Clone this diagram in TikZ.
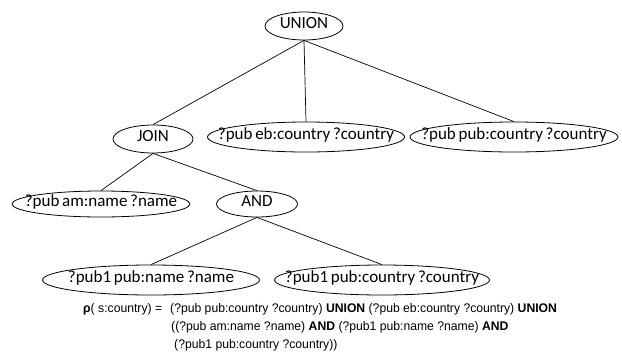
\documentclass[tikz,border=0pt]{standalone}
\usepackage{fontspec}
\setmainfont{Carlito}[WordSpace=0.7]
\newfontfamily\formfont[FakeStretch=0.975]{Liberation Sans}
\usetikzlibrary{shapes.geometric}
\begin{document}
\begin{tikzpicture}[x=1pt,y=-1pt,
  ell/.style={ellipse, draw, line width=0.8pt, inner sep=0pt,
    text height=0.66em, text depth=0.08em,
    font=\fontsize{17}{19}\selectfont},
  edge/.style={draw, line width=0.7pt},
  form/.style={anchor=base west, inner sep=0pt,
    font=\formfont\fontsize{12.5}{14}\selectfont}]
\useasboundingbox (0,0) rectangle (622,360);
\node[ell, minimum width=78pt, minimum height=28pt] (union) at (304,26) {\makebox[0pt]{UNION}};
\node[ell, minimum width=80pt, minimum height=28pt] (join) at (153,139) {\makebox[0pt]{JOIN}};
\node[ell, minimum width=197pt, minimum height=30pt] (eb) at (306,137) {\makebox[0pt]{?pub eb:country ?country}};
\node[ell, minimum width=208pt, minimum height=30pt] (pubc) at (514,137) {\makebox[0pt]{?pub pub:country ?country}};
\node[ell, minimum width=178pt, minimum height=26pt] (am) at (101,204) {\makebox[0pt]{?pub am:name ?name}};
\node[ell, minimum width=81pt, minimum height=26pt] (and) at (257,204) {\makebox[0pt]{AND}};
\node[ell, minimum width=217pt, minimum height=30pt] (p1n) at (151,280) {\makebox[0pt]{?pub1 pub:name ?name}};
\node[ell, minimum width=215pt, minimum height=30pt] (p1c) at (382,280) {\makebox[0pt]{?pub1 pub:country ?country}};
\path[edge] (union.south) -- (join.north);
\path[edge] (union.south) -- (eb.north);
\path[edge] (union.south) -- (pubc.north);
\path[edge] (join.south) -- (am.north);
\path[edge] (join.south) -- (and.north);
\path[edge] (and.south) -- (p1n.north);
\path[edge] (and.south) -- (p1c.north);
\node[form] (f0) at (83,312) {\textbf{ρ}( s:country) =};
\node[form] (f1) at (170,312) {(?pub pub:country ?country) \textbf{UNION} (?pub eb:country ?country) \textbf{UNION}};
\node[form] (f2) at (171,330) {((?pub am:name ?name) \textbf{AND} (?pub1 pub:name ?name) \textbf{AND}};
\node[form] (f3) at (174,348) {(?pub1 pub:country ?country))};
\end{tikzpicture}
\end{document}
